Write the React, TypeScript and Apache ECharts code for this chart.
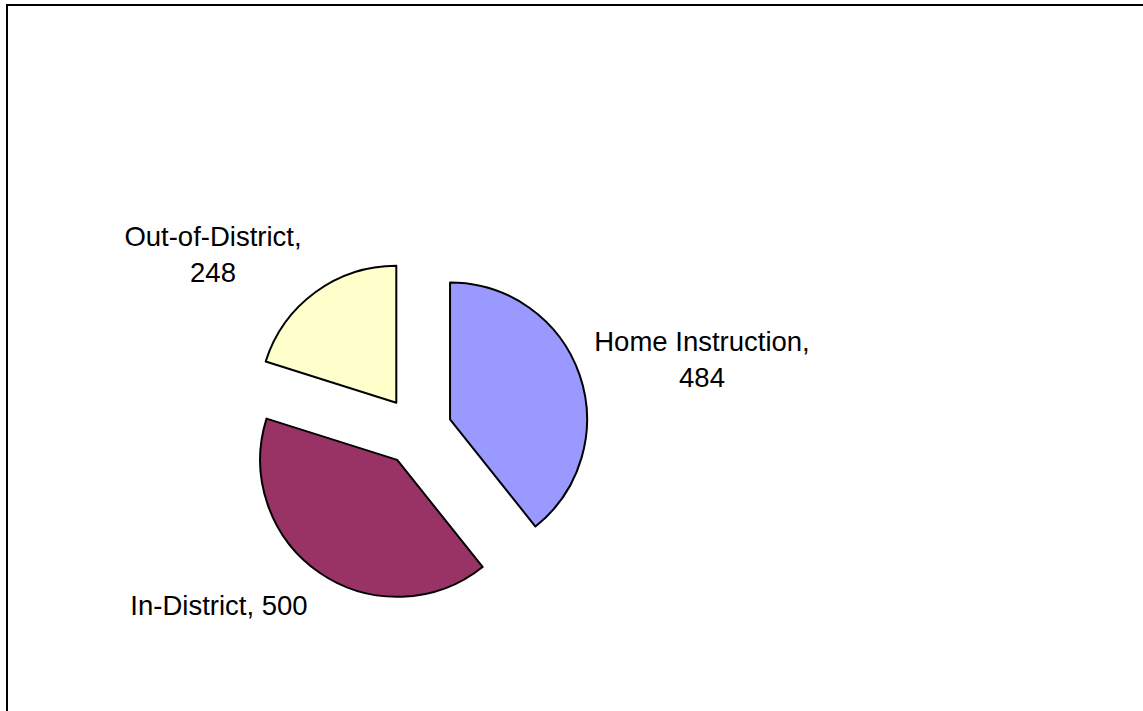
import React, { useEffect, useRef } from "react";
import * as echarts from "echarts";

const categories = ["Home Instruction", "In-District", "Out-of-District"];
const values = [484, 500, 248];
const colors = ["#9999FF", "#993366", "#FFFFCC"];
const labelTexts = categories.map((c, i) =>
  c === "In-District" ? `${c}, ${values[i]}` : `${c},\n${values[i]}`
);
const labelPositions: [number, number][] = [
  [702, 359],
  [219, 605],
  [213, 254],
];

export default function App() {
  const ref = useRef<HTMLDivElement>(null);
  useEffect(() => {
    if (!ref.current) return;
    const chart = echarts.init(ref.current, null, { renderer: "svg" });
    chart.setOption({
      animation: false,
      backgroundColor: "#ffffff",
      graphic: [
        {
          type: "rect",
          shape: { x: 7, y: 5, width: 1160, height: 730 },
          style: { fill: "none", stroke: "#000", lineWidth: 2 },
          silent: true,
        },
        ...labelTexts.map((t, i) => ({
          type: "text",
          x: labelPositions[i][0],
          y: labelPositions[i][1],
          silent: true,
          style: {
            text: t,
            fill: "#000",
            font: '27.5px "Liberation Sans", Arial, sans-serif',
            lineHeight: 36,
            align: "center",
            verticalAlign: "middle",
          },
        })),
      ],
      series: [
        {
          type: "pie",
          center: [417, 431],
          radius: 137,
          startAngle: 90,
          clockwise: true,
          selectedMode: "multiple",
          selectedOffset: 35,
          emphasis: { disabled: true },
          itemStyle: { borderColor: "#000", borderWidth: 2 },
          label: { show: false },
          labelLine: { show: false },
          data: categories.map((name, i) => ({
            name,
            value: values[i],
            selected: true,
            itemStyle: { color: colors[i] },
            select: { itemStyle: { color: colors[i], borderColor: "#000", borderWidth: 2 } },
          })),
        },
      ],
    });
    return () => chart.dispose();
  }, []);
  return (
    <div
      ref={ref}
      style={{ position: "fixed", left: 0, top: 0, width: 1143, height: 711 }}
    />
  );
}
